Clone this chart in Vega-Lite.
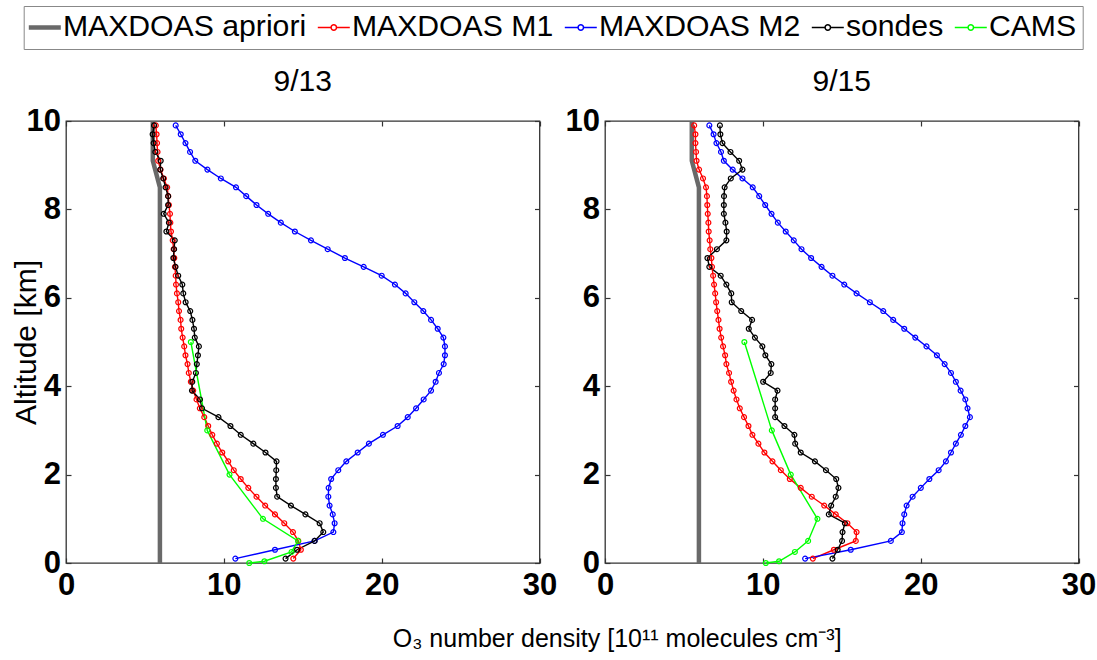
{
  "$schema": "https://vega.github.io/schema/vega-lite/v6.json",
  "padding": {"left": 11, "top": 5, "right": 0, "bottom": 0},
  "background": "white",
  "config": {
    "font": "Liberation Sans",
    "view": {"stroke": "#333333", "strokeWidth": 1.3},
    "axis": {"grid": false, "domain": false, "tickColor": "#333333", "tickSize": -5, "tickWidth": 1.2, "labelColor": "#000000", "labelFontSize": 31, "labelFontWeight": "bold", "labelFlush": false, "labelOverlap": false, "labelBound": false, "titleColor": "#000000", "titleFontWeight": "normal"},
    "title": {"fontSize": 30, "fontWeight": "normal", "color": "#000000", "offset": 8},
    "legend": {"orient": "none", "legendX": -42.3, "legendY": -115, "direction": "horizontal", "title": null, "labelFontSize": 30.2, "labelLimit": 0, "labelColor": "#000000", "labelOffset": 3, "symbolSize": 1024, "symbolStrokeWidth": 1.5, "columnPadding": 8, "strokeColor": "#888888", "padding": 6, "fillColor": "white"}
  },
  "datasets": {
    "p": [
      {"d":"9/13","s":"MAXDOAS apriori","a":0,"x":5.95},{"d":"9/13","s":"MAXDOAS apriori","a":8.5,"x":5.95},{"d":"9/13","s":"MAXDOAS apriori","a":9.1,"x":5.5},{"d":"9/13","s":"MAXDOAS apriori","a":10,"x":5.5},
      {"d":"9/15","s":"MAXDOAS apriori","a":0,"x":5.95},{"d":"9/15","s":"MAXDOAS apriori","a":8.5,"x":5.95},{"d":"9/15","s":"MAXDOAS apriori","a":9.1,"x":5.5},{"d":"9/15","s":"MAXDOAS apriori","a":10,"x":5.5},

      {"d":"9/13","s":"MAXDOAS M1","a":0.1,"x":14.40},{"d":"9/13","s":"MAXDOAS M1","a":0.3,"x":14.88},{"d":"9/13","s":"MAXDOAS M1","a":0.5,"x":14.72},{"d":"9/13","s":"MAXDOAS M1","a":0.7,"x":14.38},{"d":"9/13","s":"MAXDOAS M1","a":0.9,"x":13.83},
      {"d":"9/13","s":"MAXDOAS M1","a":1.1,"x":13.24},{"d":"9/13","s":"MAXDOAS M1","a":1.3,"x":12.62},{"d":"9/13","s":"MAXDOAS M1","a":1.5,"x":12.07},{"d":"9/13","s":"MAXDOAS M1","a":1.7,"x":11.55},{"d":"9/13","s":"MAXDOAS M1","a":1.9,"x":11.07},
      {"d":"9/13","s":"MAXDOAS M1","a":2.1,"x":10.63},{"d":"9/13","s":"MAXDOAS M1","a":2.3,"x":10.28},{"d":"9/13","s":"MAXDOAS M1","a":2.5,"x":9.90},{"d":"9/13","s":"MAXDOAS M1","a":2.7,"x":9.56},{"d":"9/13","s":"MAXDOAS M1","a":2.9,"x":9.27},
      {"d":"9/13","s":"MAXDOAS M1","a":3.1,"x":9.01},{"d":"9/13","s":"MAXDOAS M1","a":3.3,"x":8.76},{"d":"9/13","s":"MAXDOAS M1","a":3.5,"x":8.48},{"d":"9/13","s":"MAXDOAS M1","a":3.7,"x":8.27},{"d":"9/13","s":"MAXDOAS M1","a":3.9,"x":8.06},
      {"d":"9/13","s":"MAXDOAS M1","a":4.1,"x":7.91},{"d":"9/13","s":"MAXDOAS M1","a":4.3,"x":7.78},{"d":"9/13","s":"MAXDOAS M1","a":4.5,"x":7.70},{"d":"9/13","s":"MAXDOAS M1","a":4.7,"x":7.57},{"d":"9/13","s":"MAXDOAS M1","a":4.9,"x":7.49},
      {"d":"9/13","s":"MAXDOAS M1","a":5.1,"x":7.39},{"d":"9/13","s":"MAXDOAS M1","a":5.3,"x":7.30},{"d":"9/13","s":"MAXDOAS M1","a":5.5,"x":7.26},{"d":"9/13","s":"MAXDOAS M1","a":5.7,"x":7.16},{"d":"9/13","s":"MAXDOAS M1","a":5.9,"x":7.11},
      {"d":"9/13","s":"MAXDOAS M1","a":6.1,"x":7.03},{"d":"9/13","s":"MAXDOAS M1","a":6.3,"x":6.97},{"d":"9/13","s":"MAXDOAS M1","a":6.5,"x":6.95},{"d":"9/13","s":"MAXDOAS M1","a":6.7,"x":6.90},{"d":"9/13","s":"MAXDOAS M1","a":6.9,"x":6.86},
      {"d":"9/13","s":"MAXDOAS M1","a":7.1,"x":6.82},{"d":"9/13","s":"MAXDOAS M1","a":7.3,"x":6.76},{"d":"9/13","s":"MAXDOAS M1","a":7.5,"x":6.65},{"d":"9/13","s":"MAXDOAS M1","a":7.7,"x":6.61},{"d":"9/13","s":"MAXDOAS M1","a":7.9,"x":6.59},
      {"d":"9/13","s":"MAXDOAS M1","a":8.1,"x":6.52},{"d":"9/13","s":"MAXDOAS M1","a":8.3,"x":6.48},{"d":"9/13","s":"MAXDOAS M1","a":8.5,"x":6.41},{"d":"9/13","s":"MAXDOAS M1","a":8.7,"x":6.20},{"d":"9/13","s":"MAXDOAS M1","a":8.9,"x":5.99},
      {"d":"9/13","s":"MAXDOAS M1","a":9.1,"x":5.84},{"d":"9/13","s":"MAXDOAS M1","a":9.3,"x":5.80},{"d":"9/13","s":"MAXDOAS M1","a":9.5,"x":5.77},{"d":"9/13","s":"MAXDOAS M1","a":9.7,"x":5.74},{"d":"9/13","s":"MAXDOAS M1","a":9.9,"x":5.69},

      {"d":"9/13","s":"MAXDOAS M2","a":0.1,"x":10.73},{"d":"9/13","s":"MAXDOAS M2","a":0.3,"x":13.24},{"d":"9/13","s":"MAXDOAS M2","a":0.5,"x":15.75},{"d":"9/13","s":"MAXDOAS M2","a":0.7,"x":16.94},{"d":"9/13","s":"MAXDOAS M2","a":0.9,"x":17.02},
      {"d":"9/13","s":"MAXDOAS M2","a":1.1,"x":16.90},{"d":"9/13","s":"MAXDOAS M2","a":1.3,"x":16.70},{"d":"9/13","s":"MAXDOAS M2","a":1.5,"x":16.62},{"d":"9/13","s":"MAXDOAS M2","a":1.7,"x":16.64},{"d":"9/13","s":"MAXDOAS M2","a":1.9,"x":16.80},
      {"d":"9/13","s":"MAXDOAS M2","a":2.1,"x":17.25},{"d":"9/13","s":"MAXDOAS M2","a":2.3,"x":17.76},{"d":"9/13","s":"MAXDOAS M2","a":2.5,"x":18.48},{"d":"9/13","s":"MAXDOAS M2","a":2.7,"x":19.19},{"d":"9/13","s":"MAXDOAS M2","a":2.9,"x":20.08},
      {"d":"9/13","s":"MAXDOAS M2","a":3.1,"x":21.01},{"d":"9/13","s":"MAXDOAS M2","a":3.3,"x":21.65},{"d":"9/13","s":"MAXDOAS M2","a":3.5,"x":22.18},{"d":"9/13","s":"MAXDOAS M2","a":3.7,"x":22.66},{"d":"9/13","s":"MAXDOAS M2","a":3.9,"x":23.13},
      {"d":"9/13","s":"MAXDOAS M2","a":4.1,"x":23.42},{"d":"9/13","s":"MAXDOAS M2","a":4.3,"x":23.63},{"d":"9/13","s":"MAXDOAS M2","a":4.5,"x":23.93},{"d":"9/13","s":"MAXDOAS M2","a":4.7,"x":24.01},{"d":"9/13","s":"MAXDOAS M2","a":4.9,"x":24.01},
      {"d":"9/13","s":"MAXDOAS M2","a":5.1,"x":23.91},{"d":"9/13","s":"MAXDOAS M2","a":5.3,"x":23.55},{"d":"9/13","s":"MAXDOAS M2","a":5.5,"x":23.13},{"d":"9/13","s":"MAXDOAS M2","a":5.7,"x":22.64},{"d":"9/13","s":"MAXDOAS M2","a":5.9,"x":22.07},
      {"d":"9/13","s":"MAXDOAS M2","a":6.1,"x":21.52},{"d":"9/13","s":"MAXDOAS M2","a":6.3,"x":20.84},{"d":"9/13","s":"MAXDOAS M2","a":6.5,"x":20.00},{"d":"9/13","s":"MAXDOAS M2","a":6.7,"x":18.86},{"d":"9/13","s":"MAXDOAS M2","a":6.9,"x":17.67},
      {"d":"9/13","s":"MAXDOAS M2","a":7.1,"x":16.58},{"d":"9/13","s":"MAXDOAS M2","a":7.3,"x":15.52},{"d":"9/13","s":"MAXDOAS M2","a":7.5,"x":14.50},{"d":"9/13","s":"MAXDOAS M2","a":7.7,"x":13.61},{"d":"9/13","s":"MAXDOAS M2","a":7.9,"x":12.81},
      {"d":"9/13","s":"MAXDOAS M2","a":8.1,"x":12.07},{"d":"9/13","s":"MAXDOAS M2","a":8.3,"x":11.42},{"d":"9/13","s":"MAXDOAS M2","a":8.5,"x":10.77},{"d":"9/13","s":"MAXDOAS M2","a":8.7,"x":9.81},{"d":"9/13","s":"MAXDOAS M2","a":8.9,"x":8.96},
      {"d":"9/13","s":"MAXDOAS M2","a":9.1,"x":8.19},{"d":"9/13","s":"MAXDOAS M2","a":9.3,"x":7.86},{"d":"9/13","s":"MAXDOAS M2","a":9.5,"x":7.57},{"d":"9/13","s":"MAXDOAS M2","a":9.7,"x":7.27},{"d":"9/13","s":"MAXDOAS M2","a":9.9,"x":6.95},

      {"d":"9/13","s":"sondes","a":0.1,"x":13.91},{"d":"9/13","s":"sondes","a":0.3,"x":14.64},{"d":"9/13","s":"sondes","a":0.5,"x":15.75},{"d":"9/13","s":"sondes","a":0.7,"x":16.30},{"d":"9/13","s":"sondes","a":0.9,"x":16.07},
      {"d":"9/13","s":"sondes","a":1.1,"x":15.17},{"d":"9/13","s":"sondes","a":1.3,"x":14.25},{"d":"9/13","s":"sondes","a":1.5,"x":13.38},{"d":"9/13","s":"sondes","a":1.7,"x":13.30},{"d":"9/13","s":"sondes","a":1.9,"x":13.30},
      {"d":"9/13","s":"sondes","a":2.1,"x":13.32},{"d":"9/13","s":"sondes","a":2.3,"x":13.34},{"d":"9/13","s":"sondes","a":2.5,"x":12.64},{"d":"9/13","s":"sondes","a":2.7,"x":11.87},{"d":"9/13","s":"sondes","a":2.9,"x":11.07},
      {"d":"9/13","s":"sondes","a":3.1,"x":10.42},{"d":"9/13","s":"sondes","a":3.3,"x":9.66},{"d":"9/13","s":"sondes","a":3.5,"x":8.62},{"d":"9/13","s":"sondes","a":3.7,"x":8.49},{"d":"9/13","s":"sondes","a":3.9,"x":7.98},
      {"d":"9/13","s":"sondes","a":4.1,"x":8.00},{"d":"9/13","s":"sondes","a":4.3,"x":8.23},{"d":"9/13","s":"sondes","a":4.5,"x":8.29},{"d":"9/13","s":"sondes","a":4.7,"x":8.36},{"d":"9/13","s":"sondes","a":4.9,"x":8.42},
      {"d":"9/13","s":"sondes","a":5.1,"x":8.16},{"d":"9/13","s":"sondes","a":5.3,"x":8.11},{"d":"9/13","s":"sondes","a":5.5,"x":8.01},{"d":"9/13","s":"sondes","a":5.7,"x":7.87},{"d":"9/13","s":"sondes","a":5.9,"x":7.58},
      {"d":"9/13","s":"sondes","a":6.1,"x":7.43},{"d":"9/13","s":"sondes","a":6.3,"x":7.37},{"d":"9/13","s":"sondes","a":6.5,"x":7.11},{"d":"9/13","s":"sondes","a":6.7,"x":6.94},{"d":"9/13","s":"sondes","a":6.9,"x":6.80},
      {"d":"9/13","s":"sondes","a":7.1,"x":6.85},{"d":"9/13","s":"sondes","a":7.3,"x":6.89},{"d":"9/13","s":"sondes","a":7.5,"x":6.36},{"d":"9/13","s":"sondes","a":7.7,"x":6.52},{"d":"9/13","s":"sondes","a":7.9,"x":6.19},
      {"d":"9/13","s":"sondes","a":8.1,"x":6.47},{"d":"9/13","s":"sondes","a":8.3,"x":6.47},{"d":"9/13","s":"sondes","a":8.5,"x":6.31},{"d":"9/13","s":"sondes","a":8.7,"x":6.16},{"d":"9/13","s":"sondes","a":8.9,"x":5.97},
      {"d":"9/13","s":"sondes","a":9.1,"x":6.00},{"d":"9/13","s":"sondes","a":9.3,"x":5.66},{"d":"9/13","s":"sondes","a":9.5,"x":5.55},{"d":"9/13","s":"sondes","a":9.7,"x":5.49},{"d":"9/13","s":"sondes","a":9.9,"x":5.58},

      {"d":"9/13","s":"CAMS","a":0,"x":11.61},{"d":"9/13","s":"CAMS","a":0.04,"x":12.57},{"d":"9/13","s":"CAMS","a":0.25,"x":14.29},{"d":"9/13","s":"CAMS","a":0.5,"x":14.70},
      {"d":"9/13","s":"CAMS","a":1,"x":12.48},{"d":"9/13","s":"CAMS","a":2,"x":10.36},{"d":"9/13","s":"CAMS","a":3,"x":8.95},{"d":"9/13","s":"CAMS","a":5,"x":7.91},

      {"d":"9/15","s":"MAXDOAS M1","a":0.1,"x":13.17},{"d":"9/15","s":"MAXDOAS M1","a":0.3,"x":14.50},{"d":"9/15","s":"MAXDOAS M1","a":0.5,"x":15.89},{"d":"9/15","s":"MAXDOAS M1","a":0.7,"x":15.94},{"d":"9/15","s":"MAXDOAS M1","a":0.9,"x":15.36},
      {"d":"9/15","s":"MAXDOAS M1","a":1.1,"x":14.62},{"d":"9/15","s":"MAXDOAS M1","a":1.3,"x":13.89},{"d":"9/15","s":"MAXDOAS M1","a":1.5,"x":13.10},{"d":"9/15","s":"MAXDOAS M1","a":1.7,"x":12.40},{"d":"9/15","s":"MAXDOAS M1","a":1.9,"x":11.71},
      {"d":"9/15","s":"MAXDOAS M1","a":2.1,"x":11.14},{"d":"9/15","s":"MAXDOAS M1","a":2.3,"x":10.61},{"d":"9/15","s":"MAXDOAS M1","a":2.5,"x":10.10},{"d":"9/15","s":"MAXDOAS M1","a":2.7,"x":9.72},{"d":"9/15","s":"MAXDOAS M1","a":2.9,"x":9.34},
      {"d":"9/15","s":"MAXDOAS M1","a":3.1,"x":9.09},{"d":"9/15","s":"MAXDOAS M1","a":3.3,"x":8.81},{"d":"9/15","s":"MAXDOAS M1","a":3.5,"x":8.54},{"d":"9/15","s":"MAXDOAS M1","a":3.7,"x":8.33},{"d":"9/15","s":"MAXDOAS M1","a":3.9,"x":8.15},
      {"d":"9/15","s":"MAXDOAS M1","a":4.1,"x":7.99},{"d":"9/15","s":"MAXDOAS M1","a":4.3,"x":7.86},{"d":"9/15","s":"MAXDOAS M1","a":4.5,"x":7.69},{"d":"9/15","s":"MAXDOAS M1","a":4.7,"x":7.61},{"d":"9/15","s":"MAXDOAS M1","a":4.9,"x":7.48},
      {"d":"9/15","s":"MAXDOAS M1","a":5.1,"x":7.36},{"d":"9/15","s":"MAXDOAS M1","a":5.3,"x":7.26},{"d":"9/15","s":"MAXDOAS M1","a":5.5,"x":7.19},{"d":"9/15","s":"MAXDOAS M1","a":5.7,"x":7.11},{"d":"9/15","s":"MAXDOAS M1","a":5.9,"x":7.04},
      {"d":"9/15","s":"MAXDOAS M1","a":6.1,"x":6.98},{"d":"9/15","s":"MAXDOAS M1","a":6.3,"x":6.91},{"d":"9/15","s":"MAXDOAS M1","a":6.5,"x":6.85},{"d":"9/15","s":"MAXDOAS M1","a":6.7,"x":6.78},{"d":"9/15","s":"MAXDOAS M1","a":6.9,"x":6.74},
      {"d":"9/15","s":"MAXDOAS M1","a":7.1,"x":6.67},{"d":"9/15","s":"MAXDOAS M1","a":7.3,"x":6.63},{"d":"9/15","s":"MAXDOAS M1","a":7.5,"x":6.57},{"d":"9/15","s":"MAXDOAS M1","a":7.7,"x":6.55},{"d":"9/15","s":"MAXDOAS M1","a":7.9,"x":6.51},
      {"d":"9/15","s":"MAXDOAS M1","a":8.1,"x":6.48},{"d":"9/15","s":"MAXDOAS M1","a":8.3,"x":6.46},{"d":"9/15","s":"MAXDOAS M1","a":8.5,"x":6.40},{"d":"9/15","s":"MAXDOAS M1","a":8.7,"x":6.21},{"d":"9/15","s":"MAXDOAS M1","a":8.9,"x":5.96},
      {"d":"9/15","s":"MAXDOAS M1","a":9.1,"x":5.80},{"d":"9/15","s":"MAXDOAS M1","a":9.3,"x":5.77},{"d":"9/15","s":"MAXDOAS M1","a":9.5,"x":5.73},{"d":"9/15","s":"MAXDOAS M1","a":9.7,"x":5.73},{"d":"9/15","s":"MAXDOAS M1","a":9.9,"x":5.65},

      {"d":"9/15","s":"MAXDOAS M2","a":0.1,"x":12.68},{"d":"9/15","s":"MAXDOAS M2","a":0.3,"x":15.57},{"d":"9/15","s":"MAXDOAS M2","a":0.5,"x":18.11},{"d":"9/15","s":"MAXDOAS M2","a":0.7,"x":18.81},{"d":"9/15","s":"MAXDOAS M2","a":0.9,"x":18.85},
      {"d":"9/15","s":"MAXDOAS M2","a":1.1,"x":18.96},{"d":"9/15","s":"MAXDOAS M2","a":1.3,"x":19.11},{"d":"9/15","s":"MAXDOAS M2","a":1.5,"x":19.49},{"d":"9/15","s":"MAXDOAS M2","a":1.7,"x":20.01},{"d":"9/15","s":"MAXDOAS M2","a":1.9,"x":20.55},
      {"d":"9/15","s":"MAXDOAS M2","a":2.1,"x":21.14},{"d":"9/15","s":"MAXDOAS M2","a":2.3,"x":21.60},{"d":"9/15","s":"MAXDOAS M2","a":2.5,"x":21.92},{"d":"9/15","s":"MAXDOAS M2","a":2.7,"x":22.23},{"d":"9/15","s":"MAXDOAS M2","a":2.9,"x":22.55},
      {"d":"9/15","s":"MAXDOAS M2","a":3.1,"x":22.83},{"d":"9/15","s":"MAXDOAS M2","a":3.3,"x":23.12},{"d":"9/15","s":"MAXDOAS M2","a":3.5,"x":22.97},{"d":"9/15","s":"MAXDOAS M2","a":3.7,"x":22.83},{"d":"9/15","s":"MAXDOAS M2","a":3.9,"x":22.53},
      {"d":"9/15","s":"MAXDOAS M2","a":4.1,"x":22.23},{"d":"9/15","s":"MAXDOAS M2","a":4.3,"x":21.92},{"d":"9/15","s":"MAXDOAS M2","a":4.5,"x":21.52},{"d":"9/15","s":"MAXDOAS M2","a":4.7,"x":21.03},{"d":"9/15","s":"MAXDOAS M2","a":4.9,"x":20.37},
      {"d":"9/15","s":"MAXDOAS M2","a":5.1,"x":19.66},{"d":"9/15","s":"MAXDOAS M2","a":5.3,"x":18.96},{"d":"9/15","s":"MAXDOAS M2","a":5.5,"x":18.26},{"d":"9/15","s":"MAXDOAS M2","a":5.7,"x":17.63},{"d":"9/15","s":"MAXDOAS M2","a":5.9,"x":16.78},
      {"d":"9/15","s":"MAXDOAS M2","a":6.1,"x":15.94},{"d":"9/15","s":"MAXDOAS M2","a":6.3,"x":15.16},{"d":"9/15","s":"MAXDOAS M2","a":6.5,"x":14.41},{"d":"9/15","s":"MAXDOAS M2","a":6.7,"x":13.72},{"d":"9/15","s":"MAXDOAS M2","a":6.9,"x":13.06},
      {"d":"9/15","s":"MAXDOAS M2","a":7.1,"x":12.45},{"d":"9/15","s":"MAXDOAS M2","a":7.3,"x":11.96},{"d":"9/15","s":"MAXDOAS M2","a":7.5,"x":11.45},{"d":"9/15","s":"MAXDOAS M2","a":7.7,"x":10.95},{"d":"9/15","s":"MAXDOAS M2","a":7.9,"x":10.55},
      {"d":"9/15","s":"MAXDOAS M2","a":8.1,"x":10.15},{"d":"9/15","s":"MAXDOAS M2","a":8.3,"x":9.77},{"d":"9/15","s":"MAXDOAS M2","a":8.5,"x":9.36},{"d":"9/15","s":"MAXDOAS M2","a":8.7,"x":8.71},{"d":"9/15","s":"MAXDOAS M2","a":8.9,"x":8.09},
      {"d":"9/15","s":"MAXDOAS M2","a":9.1,"x":7.53},{"d":"9/15","s":"MAXDOAS M2","a":9.3,"x":7.35},{"d":"9/15","s":"MAXDOAS M2","a":9.5,"x":7.06},{"d":"9/15","s":"MAXDOAS M2","a":9.7,"x":6.88},{"d":"9/15","s":"MAXDOAS M2","a":9.9,"x":6.61},

      {"d":"9/15","s":"sondes","a":0.1,"x":14.41},{"d":"9/15","s":"sondes","a":0.3,"x":14.74},{"d":"9/15","s":"sondes","a":0.5,"x":15.02},{"d":"9/15","s":"sondes","a":0.7,"x":15.05},{"d":"9/15","s":"sondes","a":0.9,"x":15.20},
      {"d":"9/15","s":"sondes","a":1.1,"x":14.18},{"d":"9/15","s":"sondes","a":1.3,"x":14.33},{"d":"9/15","s":"sondes","a":1.5,"x":14.62},{"d":"9/15","s":"sondes","a":1.7,"x":14.79},{"d":"9/15","s":"sondes","a":1.9,"x":14.65},
      {"d":"9/15","s":"sondes","a":2.1,"x":14.00},{"d":"9/15","s":"sondes","a":2.3,"x":13.30},{"d":"9/15","s":"sondes","a":2.5,"x":12.40},{"d":"9/15","s":"sondes","a":2.7,"x":12.05},{"d":"9/15","s":"sondes","a":2.9,"x":12.00},
      {"d":"9/15","s":"sondes","a":3.1,"x":11.37},{"d":"9/15","s":"sondes","a":3.3,"x":10.78},{"d":"9/15","s":"sondes","a":3.5,"x":10.78},{"d":"9/15","s":"sondes","a":3.7,"x":10.78},{"d":"9/15","s":"sondes","a":3.9,"x":10.93},
      {"d":"9/15","s":"sondes","a":4.1,"x":10.02},{"d":"9/15","s":"sondes","a":4.3,"x":10.50},{"d":"9/15","s":"sondes","a":4.5,"x":10.54},{"d":"9/15","s":"sondes","a":4.7,"x":10.16},{"d":"9/15","s":"sondes","a":4.9,"x":9.97},
      {"d":"9/15","s":"sondes","a":5.1,"x":9.50},{"d":"9/15","s":"sondes","a":5.3,"x":9.11},{"d":"9/15","s":"sondes","a":5.5,"x":9.32},{"d":"9/15","s":"sondes","a":5.7,"x":8.63},{"d":"9/15","s":"sondes","a":5.9,"x":8.03},
      {"d":"9/15","s":"sondes","a":6.1,"x":8.00},{"d":"9/15","s":"sondes","a":6.3,"x":7.69},{"d":"9/15","s":"sondes","a":6.5,"x":7.33},{"d":"9/15","s":"sondes","a":6.7,"x":6.61},{"d":"9/15","s":"sondes","a":6.9,"x":6.49},
      {"d":"9/15","s":"sondes","a":7.1,"x":7.09},{"d":"9/15","s":"sondes","a":7.3,"x":7.69},{"d":"9/15","s":"sondes","a":7.5,"x":7.71},{"d":"9/15","s":"sondes","a":7.7,"x":7.63},{"d":"9/15","s":"sondes","a":7.9,"x":7.53},
      {"d":"9/15","s":"sondes","a":8.1,"x":7.53},{"d":"9/15","s":"sondes","a":8.3,"x":7.54},{"d":"9/15","s":"sondes","a":8.5,"x":7.58},{"d":"9/15","s":"sondes","a":8.7,"x":7.97},{"d":"9/15","s":"sondes","a":8.9,"x":8.71},
      {"d":"9/15","s":"sondes","a":9.1,"x":8.50},{"d":"9/15","s":"sondes","a":9.3,"x":7.95},{"d":"9/15","s":"sondes","a":9.5,"x":7.44},{"d":"9/15","s":"sondes","a":9.7,"x":7.31},{"d":"9/15","s":"sondes","a":9.9,"x":7.28},

      {"d":"9/15","s":"CAMS","a":0,"x":10.19},{"d":"9/15","s":"CAMS","a":0.04,"x":11.03},{"d":"9/15","s":"CAMS","a":0.25,"x":12.03},{"d":"9/15","s":"CAMS","a":0.5,"x":12.87},
      {"d":"9/15","s":"CAMS","a":1,"x":13.46},{"d":"9/15","s":"CAMS","a":2,"x":11.77},{"d":"9/15","s":"CAMS","a":3,"x":10.57},{"d":"9/15","s":"CAMS","a":5,"x":8.83}
    ]
  },
  "bounds": "flush",
  "spacing": 65,
  "resolve": {"scale": {"color": "shared", "x": "independent", "y": "independent"}, "legend": {"color": "shared"}},
  "hconcat": [
    {
      "width": 473.5, "height": 442,
      "title": {"text": "9/13"},
      "data": {"name": "p"},
      "transform": [{"filter": "datum.d === '9/13'"}],
      "resolve": {"axis": {"x": "independent", "y": "independent"}},
      "layer": [
        {
          "transform": [{"filter": "datum.s === 'MAXDOAS apriori'"}],
          "mark": {"type": "line", "strokeWidth": 4.5},
          "encoding": {
            "x": {"field": "x", "type": "quantitative", "scale": {"domain": [0, 30]}, "axis": {"orient": "bottom", "values": [0, 10, 20, 30], "labelPadding": 12, "title": "O₃ number density [10¹¹ molecules cm⁻³]", "titleFontSize": 25, "titleX": 550.7, "titleY": 83, "titleAlign": "center", "titleBaseline": "alphabetic"}},
            "y": {"field": "a", "type": "quantitative", "scale": {"domain": [0, 10]}, "axis": {"orient": "left", "values": [0, 2, 4, 6, 8, 10], "labelPadding": 10.5, "title": "Altitude [km]", "titleFontSize": 30, "titleX": -39.3, "titleY": 221, "titleAngle": 270, "titleAlign": "center", "titleBaseline": "middle"}},
            "order": {"field": "a", "type": "quantitative"},
            "color": {"field": "s", "type": "nominal", "scale": {"domain": ["MAXDOAS apriori", "MAXDOAS M1", "MAXDOAS M2", "sondes", "CAMS"], "range": ["#696969", "#ff0000", "#0000ff", "#000000", "#00ff00"]},
              "legend": {"encode": {"symbols": {"update": {"shape": {"signal": "datum.value === 'MAXDOAS apriori' ? 'M-1,0L1,0' : 'M-1,0L-0.17,0M0.17,0L1,0M0.17,0A0.17,0.17,0,1,1,-0.17,0A0.17,0.17,0,1,1,0.17,0'"}, "strokeWidth": {"signal": "datum.value === 'MAXDOAS apriori' ? 4.5 : 1.5"}, "fill": {"value": "transparent"}}}}}}
          }
        },
        {
          "transform": [{"filter": "datum.s !== 'MAXDOAS apriori'"}],
          "mark": {"type": "line", "strokeWidth": 1.4},
          "encoding": {
            "x": {"field": "x", "type": "quantitative", "scale": {"domain": [0, 30]}, "axis": {"orient": "top", "values": [0, 10, 20, 30], "labels": false, "title": null}},
            "y": {"field": "a", "type": "quantitative", "scale": {"domain": [0, 10]}, "axis": {"orient": "right", "values": [0, 2, 4, 6, 8, 10], "labels": false, "title": null}},
            "order": {"field": "a", "type": "quantitative"},
            "color": {"field": "s", "type": "nominal"}
          }
        },
        {
          "transform": [{"filter": "datum.s !== 'MAXDOAS apriori'"}],
          "mark": {"type": "point", "filled": false, "size": 24, "strokeWidth": 1.2, "opacity": 1},
          "encoding": {
            "x": {"field": "x", "type": "quantitative", "scale": {"domain": [0, 30]}, "axis": null},
            "y": {"field": "a", "type": "quantitative", "scale": {"domain": [0, 10]}, "axis": null},
            "color": {"field": "s", "type": "nominal"}
          }
        }
      ]
    },
    {
      "width": 473.5, "height": 442,
      "title": {"text": "9/15"},
      "data": {"name": "p"},
      "transform": [{"filter": "datum.d === '9/15'"}],
      "resolve": {"axis": {"x": "independent", "y": "independent"}},
      "layer": [
        {
          "transform": [{"filter": "datum.s === 'MAXDOAS apriori'"}],
          "mark": {"type": "line", "strokeWidth": 4.5},
          "encoding": {
            "x": {"field": "x", "type": "quantitative", "scale": {"domain": [0, 30]}, "axis": {"orient": "bottom", "values": [0, 10, 20, 30], "labelPadding": 12, "title": null}},
            "y": {"field": "a", "type": "quantitative", "scale": {"domain": [0, 10]}, "axis": {"orient": "left", "values": [0, 2, 4, 6, 8, 10], "labelPadding": 10.5, "title": null}},
            "order": {"field": "a", "type": "quantitative"},
            "color": {"field": "s", "type": "nominal"}
          }
        },
        {
          "transform": [{"filter": "datum.s !== 'MAXDOAS apriori'"}],
          "mark": {"type": "line", "strokeWidth": 1.4},
          "encoding": {
            "x": {"field": "x", "type": "quantitative", "scale": {"domain": [0, 30]}, "axis": {"orient": "top", "values": [0, 10, 20, 30], "labels": false, "title": null}},
            "y": {"field": "a", "type": "quantitative", "scale": {"domain": [0, 10]}, "axis": {"orient": "right", "values": [0, 2, 4, 6, 8, 10], "labels": false, "title": null}},
            "order": {"field": "a", "type": "quantitative"},
            "color": {"field": "s", "type": "nominal"}
          }
        },
        {
          "transform": [{"filter": "datum.s !== 'MAXDOAS apriori'"}],
          "mark": {"type": "point", "filled": false, "size": 24, "strokeWidth": 1.2, "opacity": 1},
          "encoding": {
            "x": {"field": "x", "type": "quantitative", "scale": {"domain": [0, 30]}, "axis": null},
            "y": {"field": "a", "type": "quantitative", "scale": {"domain": [0, 10]}, "axis": null},
            "color": {"field": "s", "type": "nominal"}
          }
        }
      ]
    }
  ]
}
